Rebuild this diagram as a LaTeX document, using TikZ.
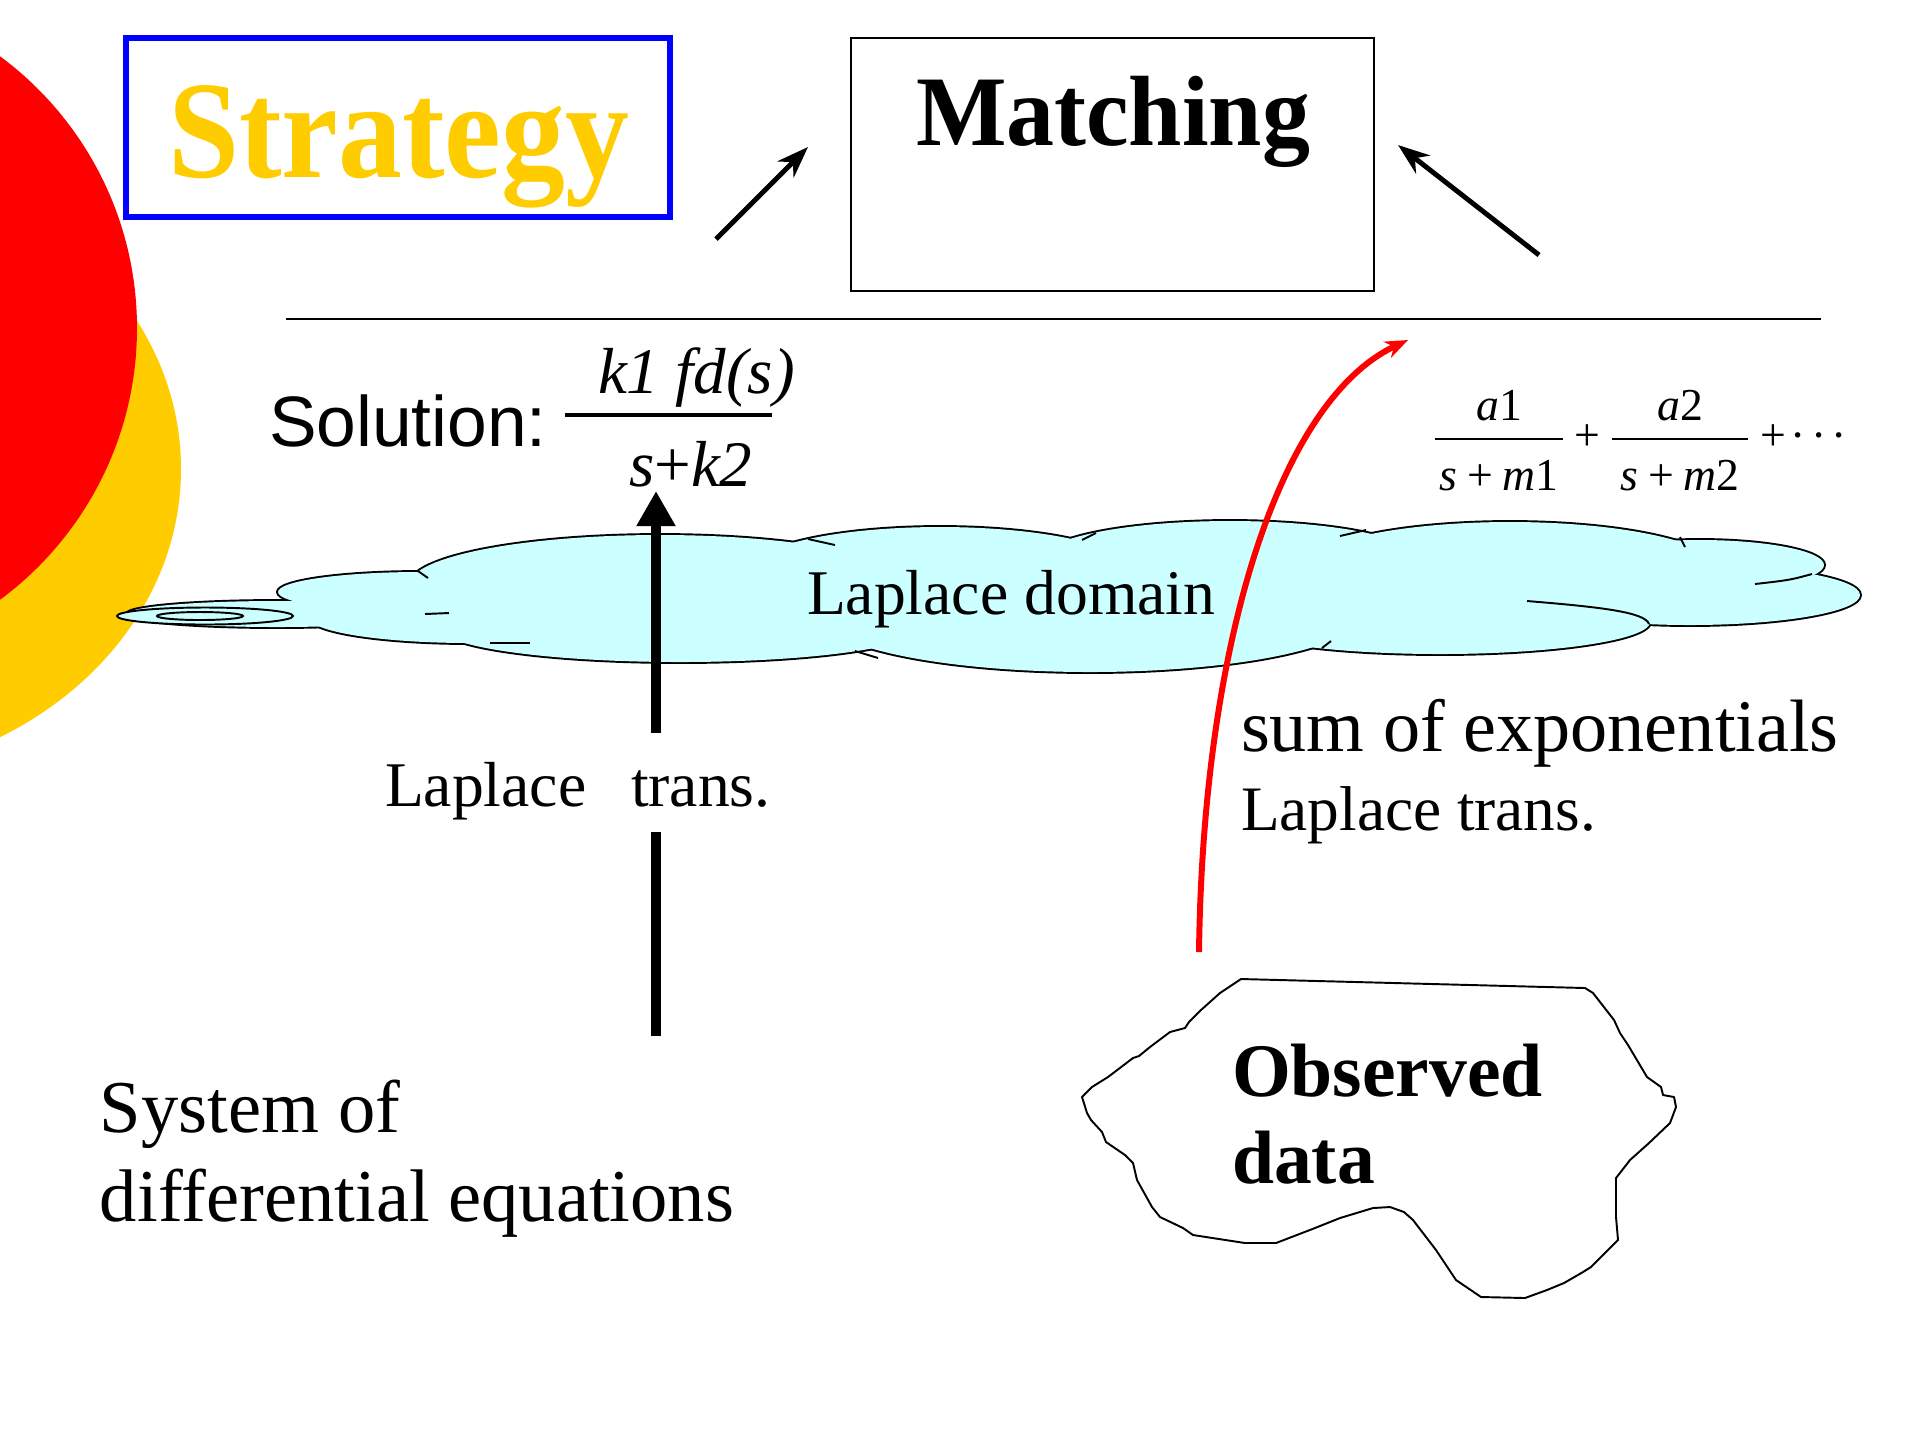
\documentclass[tikz,border=0pt]{standalone}
\usepackage{fontspec}
\setmainfont{Liberation Serif}
\newfontfamily\sansfam{Liberation Sans}
\usepackage{graphicx}
\usetikzlibrary{arrows.meta}
\definecolor{stratyellow}{RGB}{255,204,0}
\definecolor{cloudcyan}{RGB}{204,255,255}
\definecolor{pureblue}{RGB}{0,0,255}
\definecolor{purered}{RGB}{255,0,0}
\newcommand\setfs[1]{\fontsize{#1}{#1}\selectfont}
\tikzset{
  txt/.style={anchor=base west, inner sep=0pt, outer sep=0pt},
  ctxt/.style={anchor=base, inner sep=0pt, outer sep=0pt},
  thinarrow/.style={line width=1.4pt, -{Stealth[length=9pt,width=6.5pt]}},
  thickarrow/.style={line width=2.8pt, -{Triangle[length=10pt,width=10.5pt]}},
  redarrow/.style={purered, line width=1.7pt, -{Stealth[length=6.5pt,width=5pt]}},
  cloudline/.style={line width=0.55pt},
}
\begin{document}
\begin{tikzpicture}[x=0.01cm,y=-0.01cm]
\useasboundingbox (0,0) rectangle (1915,1438);
\clip (0,0) rectangle (1915,1438);
\fill[white] (0,0) rectangle (1915,1438);

% decoration circles
\fill[stratyellow] (-179,469) ellipse [x radius=360, y radius=309];
\fill[purered] (-201,328) circle [radius=338];

% Strategy box
\draw[pureblue, line width=1.7pt] (126,38) rectangle (670,217);
\node[txt, text=stratyellow] (strategy) at (168,177)
  {\setfs{39.5}\bfseries\scalebox{0.92}[1]{Strategy}};

% Matching box
\draw[line width=0.8pt] (851,38) rectangle (1374,291);
\node[txt] (matching) at (916,145) {\setfs{28.4}\bfseries\scalebox{0.96}[1]{Matching}};

% arrows to Matching
\coordinate (la0) at (716,239);
\coordinate (la1) at (808,147);
\coordinate (ra0) at (1539,255);
\coordinate (ra1) at (1398,145);
\draw[thinarrow] (la0) -- (la1);
\draw[thinarrow] (ra0) -- (ra1);

% separator line
\coordinate (sepL) at (286,319);
\coordinate (sepR) at (1821,319);
\draw[line width=0.7pt] (sepL) -- (sepR);

% cloud
\foreach \cx/\cy/\rx/\ry in {277/614/150/13, 420/592/142/20, 660/584/250/49,
  940/570/190/43, 1230/560/190/39, 1510/570/210/48, 1700/565/124/25,
  1690/595/170/30, 1440/622/210/32, 1090/615/270/57, 680/628/240/34, 470/618/160/25}
  {\draw[line width=1.1pt] (\cx,\cy) ellipse [x radius=\rx, y radius=\ry];}
\foreach \cx/\cy/\rx/\ry in {277/614/150/13, 420/592/142/20, 660/584/250/49,
  940/570/190/43, 1230/560/190/39, 1510/570/210/48, 1700/565/124/25,
  1690/595/170/30, 1440/622/210/32, 1090/615/270/57, 680/628/240/34, 470/618/160/25}
  {\fill[cloudcyan] (\cx,\cy) ellipse [x radius=\rx, y radius=\ry];}
\fill[cloudcyan] (430,590) -- (1700,580) -- (1700,615) -- (430,620) -- cycle;
% cloud inner ticks
\draw[cloudline] (425,614) -- (449,613);
\draw[cloudline] (418,571) -- (428,578);
\draw[cloudline] (808,539) -- (835,545);
\draw[cloudline] (1082,540) -- (1096,533);
\draw[cloudline] (1340,536) -- (1366,530);
\draw[cloudline] (1680,537) -- (1685,547);
\draw[cloudline] (1812,574) .. controls (1790,580) .. (1755,584);
\draw[cloudline] (1527,601) .. controls (1600,607) and (1645,612) .. (1649,624);
\draw[cloudline] (1322,648) -- (1331,641);
\draw[cloudline] (855,651) -- (878,658);
\draw[cloudline] (490,643) -- (530,643);
\filldraw[fill=cloudcyan, cloudline] (205,616) ellipse [x radius=88, y radius=8.5];
\draw[cloudline] (200,616) ellipse [x radius=43, y radius=4];
\node[txt] (ldomain) at (807,614) {\setfs{18.1}Laplace domain};

% Solution
\node[txt] (solution) at (269,446) {\sansfam\setfs{20.3}Solution:};
\node[txt] (solnum) at (598,393) {\setfs{18.5}\itshape k1 fd(s)};
\draw[line width=0.9pt] (565,415) -- (772,415);
\node[txt] (solden) at (629,486) {\setfs{18.5}\textit{s}+\textit{k2}};

% sum formula
\node[ctxt] (num1) at (1499,420) {\setfs{13}\textit{a}1};
\draw[line width=0.5pt] (1435,439) -- (1563,439);
\node[ctxt] (den1) at (1499,490) {\setfs{13}\textit{s}\hspace{0.22em}+\hspace{0.22em}\textit{m}1};
\node[ctxt] (plus1) at (1587,450) {\setfs{13}+};
\node[ctxt] (num2) at (1680,420) {\setfs{13}\textit{a}2};
\draw[line width=0.5pt] (1612,439) -- (1748,439);
\node[ctxt] (den2) at (1680,490) {\setfs{13}\textit{s}\hspace{0.22em}+\hspace{0.22em}\textit{m}2};
\node[txt] (plus2) at (1760,450) {\setfs{13}+\hspace{0.1em}\textperiodcentered\hspace{0.12em}\textperiodcentered\hspace{0.12em}\textperiodcentered};

% Laplace trans (left)
\node[txt] (lap) at (385,806) {\setfs{18.1}Laplace};
\node[txt] (trans) at (631,806) {\setfs{18.1}trans.};
\coordinate (upA) at (656,733);
\coordinate (upB) at (656,491);
\coordinate (lowA) at (656,1036);
\coordinate (lowB) at (656,832);
\draw[thickarrow] (upA) -- (upB);
\draw[line width=2.8pt] (lowA) -- (lowB);

% System of differential equations
\node[txt] (sys1) at (100,1132) {\setfs{21.2}System of};
\node[txt] (sys2) at (100,1221) {\setfs{21.2}differential equations};

% sum of exponentials
\node[txt] (sumexp) at (1241,751) {\setfs{21.1}sum of exponentials};
\node[txt] (laptr2) at (1241,830) {\setfs{18}Laplace trans.};

% Observed data blob
\draw[line width=0.55pt, line join=round]
 (1241,979) -- (1585,988) -- (1593,993) -- (1614,1020) -- (1620,1033) -- (1628,1045)
 -- (1647,1077) -- (1661,1087) -- (1663,1095) -- (1674,1097) -- (1676,1107) -- (1670,1123)
 -- (1649,1143) -- (1630,1160) -- (1616,1178) -- (1616,1217) -- (1618,1240) -- (1605,1253)
 -- (1591,1267) -- (1583,1272) -- (1564,1283) -- (1547,1290) -- (1525,1298) -- (1481,1297)
 -- (1456,1280) -- (1436,1250) -- (1413,1220) -- (1404,1212) -- (1390,1207) -- (1373,1208)
 -- (1340,1218) -- (1315,1228) -- (1276,1243) -- (1245,1243) -- (1193,1235) -- (1183,1228)
 -- (1160,1217) -- (1152,1207) -- (1137,1180) -- (1133,1163) -- (1125,1155) -- (1106,1142)
 -- (1102,1132) -- (1091,1120) -- (1087,1113) -- (1082,1097) -- (1092,1087) -- (1108,1077)
 -- (1133,1058) -- (1139,1056) -- (1150,1047) -- (1170,1032) -- (1185,1028) -- (1189,1022)
 -- (1201,1010) -- (1220,993) -- cycle;
\node[txt] (obs1) at (1232,1096) {\setfs{21.5}\bfseries Observed};
\node[txt] (obs2) at (1232,1183) {\setfs{21.5}\bfseries data};

% red curved arrow
\coordinate (redA) at (1199,952);
\coordinate (redB) at (1408,340);
\draw[redarrow] (redA) .. controls (1203,640) and (1280,400) .. (redB);
\end{tikzpicture}
\end{document}
